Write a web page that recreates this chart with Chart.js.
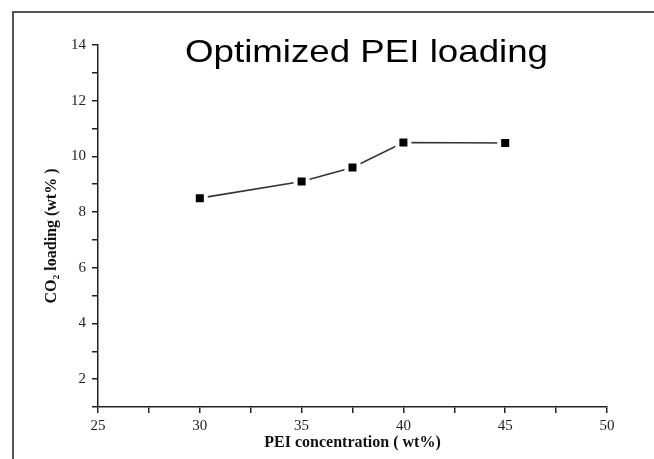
<!DOCTYPE html>
<html>
<head>
<meta charset="utf-8">
<script src="https://cdn.jsdelivr.net/npm/chart.js@4/dist/chart.umd.min.js"></script>
<style>
  html, body { margin: 0; padding: 0; background: #fff; }
  #wrap { position: relative; width: 654px; height: 459px; overflow: hidden; }
  #frame { position: absolute; left: 12px; top: 11px; width: 700px; height: 500px;
           border-left: 2px solid #555; border-top: 2px solid #555; pointer-events: none; }
  canvas { position: absolute; left: 0; top: 0; }
</style>
</head>
<body>
<div id="wrap">
  <canvas id="c" width="654" height="459"></canvas>
  <div id="frame"></div>
</div>
<script>
// ---- data ----
const peiConcentration = [30, 35, 37.5, 40, 45];          // wt%
const co2Loading       = [8.5, 9.1, 9.6, 10.5, 10.48];    // wt%
const xTickLabels = [25, 30, 35, 40, 45, 50];
const yTickLabels = [2, 4, 6, 8, 10, 12, 14];
const chartTitle = 'Optimized PEI loading';
const xTitle = 'PEI concentration ( wt%)';
const yTitle = 'CO\u2082 loading (wt% )';

const points = peiConcentration.map((x, i) => ({ x: x, y: co2Loading[i] }));

const titlePlugin = {
  id: 'innerTitle',
  afterDraw(chart) {
    const ctx = chart.ctx;
    ctx.save();
    ctx.font = '32px "Liberation Sans", Arial, sans-serif';
    ctx.fillStyle = '#000';
    ctx.textBaseline = 'alphabetic';
    ctx.textAlign = 'center';
    const w = ctx.measureText(chartTitle).width;
    const targetW = 363;
    ctx.translate(366.5, 62);
    ctx.scale(targetW / w, 1);
    ctx.fillText(chartTitle, 0, 0);
    ctx.restore();
  }
};

const serif = '"Liberation Serif", "Times New Roman", serif';

new Chart(document.getElementById('c'), {
  type: 'line',
  data: {
    datasets: [{
      data: points,
      borderColor: '#333',
      borderWidth: 1.6,
      pointStyle: 'rect',
      pointRadius: 8.5,
      pointBorderWidth: 4,
      pointBorderColor: '#fff',
      pointBackgroundColor: '#000',
      tension: 0,
      fill: false
    }]
  },
  options: {
    responsive: false,
    animation: false,
    events: [],
    layout: { padding: { top: 45, right: 47, bottom: 0, left: 0 } },
    plugins: { legend: { display: false }, tooltip: { enabled: false }, title: { display: false } },
    scales: {
      x: {
        type: 'linear',
        min: 25, max: 50,
        afterFit(s) { s.height = 52; },
        border: { display: true, color: '#222', width: 1.5 },
        grid: { display: true, drawOnChartArea: false, drawTicks: true, tickLength: 6, color: '#222', lineWidth: 1.5 },
        ticks: {
          stepSize: 2.5, autoSkip: false, maxRotation: 0, padding: 4,
          color: '#222', font: { family: serif, size: 15 },
          callback: v => xTickLabels.includes(v) ? String(v) : ''
        },
        title: {
          display: true, text: xTitle, color: '#111',
          font: { family: serif, size: 16, weight: 'bold' },
          padding: { top: 0, bottom: 7 }
        }
      },
      y: {
        type: 'linear',
        min: 1, max: 14,
        afterFit(s) { s.width = 98; },
        border: { display: true, color: '#222', width: 1.5 },
        grid: { display: true, drawOnChartArea: false, drawTicks: true, tickLength: 6, color: '#222', lineWidth: 1.5 },
        ticks: {
          stepSize: 1, autoSkip: false, padding: 6,
          color: '#222', font: { family: serif, size: 15 },
          callback: v => yTickLabels.includes(v) ? String(v) : ''
        },
        title: {
          display: true, text: yTitle + '     ', color: '#111',
          font: { family: serif, size: 16, weight: 'bold' },
          padding: { top: 42, bottom: 0 }
        }
      }
    }
  },
  plugins: [titlePlugin]
});
</script>
</body>
</html>
